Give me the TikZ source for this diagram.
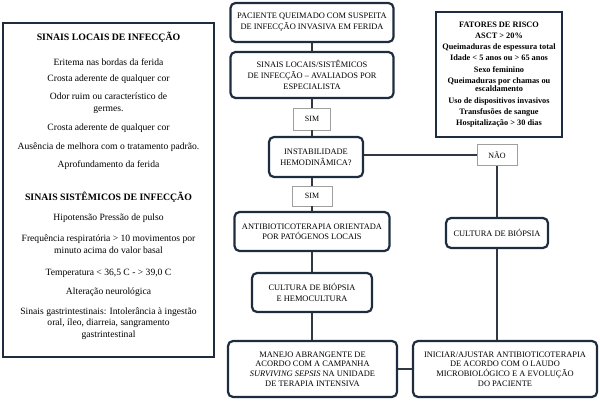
\documentclass[tikz,border=0pt]{standalone}
\usepackage{fontspec}
\setmainfont{Liberation Serif}
\definecolor{navyline}{RGB}{30,44,64}
\definecolor{linkgray}{RGB}{50,56,66}
\tikzset{
  flowbox/.style={draw=navyline,line width=2.2pt,rounded corners=5pt,fill=white,
    align=center,inner sep=1pt,font=\fontsize{8.4}{10.8}\selectfont},
  simbox/.style={draw=gray!75,line width=0.6pt,fill=white,inner sep=1pt,
    font=\fontsize{8}{9}\selectfont},
  panel/.style={draw=navyline,line width=2.6pt,fill=white,inner sep=0pt},
  paneltxt/.style={align=center,inner sep=0pt,font=\fontsize{9.6}{11.6}\selectfont},
  paneltitle/.style={inner sep=0pt,font=\bfseries\fontsize{9.8}{10}\selectfont},
  link/.style={draw=linkgray,line width=1.2pt}
}
\begin{document}
\begin{tikzpicture}[x=1pt,y=-1pt]
  \useasboundingbox (0,0) rectangle (600,403);
  % panels
  \node[panel,minimum width=211pt,minimum height=334pt] (sinais) at (108.5,190) {};
  \node[panel,minimum width=126pt,minimum height=125pt,align=center,
    font=\bfseries\fontsize{8.3}{11.2}\selectfont] (fatores) at (499,74.5)
    {FATORES DE RISCO\\ ASCT > 20\%\\ Queimaduras de espessura total\\
     Idade < 5 anos ou > 65 anos\\ Sexo feminino\\
     Queimaduras por chamas ou\\[-2.5pt] escaldamento\\ Uso de dispositivos invasivos\\
     Transfusões de sangue\\ Hospitalização > 30 dias};
  % left panel texts
  \node[paneltitle] (tlocal) at (108.5,37) {SINAIS LOCAIS DE INFECÇÃO};
  \node[paneltxt] (l1) at (108.5,62) {Eritema nas bordas da ferida};
  \node[paneltxt] (l2) at (108.5,79.5) {Crosta aderente de qualquer cor};
  \node[paneltxt] (l3) at (108.5,103.5) {Odor ruim ou característico de\\ germes.};
  \node[paneltxt] (l4) at (108.5,128) {Crosta aderente de qualquer cor};
  \node[paneltxt] (l5) at (108.5,147) {Ausência de melhora com o tratamento padrão.};
  \node[paneltxt] (l6) at (108.5,165.5) {Aprofundamento da ferida};
  \node[paneltitle] (tsist) at (108.5,197) {SINAIS SISTÊMICOS DE INFECÇÃO};
  \node[paneltxt] (s1) at (108.5,218.5) {Hipotensão Pressão de pulso};
  \node[paneltxt] (s2) at (108.5,244) {Frequência respiratória > 10 movimentos por\\ minuto acima do valor basal};
  \node[paneltxt] (s3) at (108.5,273) {Temperatura < 36,5 C - > 39,0 C};
  \node[paneltxt] (s4) at (108.5,292.5) {Alteração neurológica};
  \node[paneltxt] (s5) at (108.5,323.5) {Sinais gastrintestinais: Intolerância à ingestão\\ oral, íleo, diarreia, sangramento\\ gastrintestinal};
  % flow
  \node[flowbox,minimum width=163pt,minimum height=39pt] (pac) at (312,22.5)
    {PACIENTE QUEIMADO COM SUSPEITA\\ DE INFECÇÃO INVASIVA EM FERIDA};
  \node[flowbox,minimum width=163pt,minimum height=46pt] (aval) at (312,75)
    {SINAIS LOCAIS/SISTÊMICOS\\ DE INFECÇÃO -- AVALIADOS POR\\ ESPECIALISTA};
  \node[simbox,minimum width=37pt,minimum height=22pt] (sim1) at (312,119) {SIM};
  \node[flowbox,minimum width=94pt,minimum height=40pt] (inst) at (316,157)
    {INSTABILIDADE\\ HEMODINÂMICA?};
  \node[simbox,minimum width=40pt,minimum height=21pt] (nao) at (497,155) {NÃO};
  \node[simbox,minimum width=40pt,minimum height=20pt] (sim2) at (312,196) {SIM};
  \node[flowbox,minimum width=155pt,minimum height=39pt,
    font=\fontsize{8.4}{10}\selectfont] (anti) at (312,231.5)
    {ANTIBIOTICOTERAPIA ORIENTADA\\ POR PATÓGENOS LOCAIS};
  \node[flowbox,minimum width=102pt,minimum height=30pt] (cult) at (497,233)
    {CULTURA DE BIÓPSIA};
  \node[flowbox,minimum width=120pt,minimum height=39pt] (hemo) at (312,292.5)
    {CULTURA DE BIÓPSIA\\ E HEMOCULTURA};
  \node[flowbox,minimum width=169pt,minimum height=56pt,
    font=\fontsize{8.4}{9.8}\selectfont] (manejo) at (312.5,369)
    {MANEJO ABRANGENTE DE\\ ACORDO COM A CAMPANHA\\ \textit{SURVIVING SEPSIS} NA UNIDADE\\ DE TERAPIA INTENSIVA};
  \node[flowbox,minimum width=184pt,minimum height=56pt,
    font=\fontsize{8.4}{9.8}\selectfont] (iniciar) at (505,369)
    {INICIAR/AJUSTAR ANTIBIOTICOTERAPIA\\ DE ACORDO COM O LAUDO\\ MICROBIOLÓGICO E A EVOLUÇÃO\\ DO PACIENTE};
  % connectors
  \draw[link] (pac.south) -- (aval.north);
  \draw[link] (aval.south) -- (sim1.north);
  \draw[link] (sim1.south) -- (sim1.south |- inst.north);
  \draw[link] (inst.east |- nao.west) -- (nao.west);
  \draw[link] (sim1.south |- inst.south) -- (sim2.north);
  \draw[link] (sim2.south) -- (anti.north);
  \draw[link] (anti.south) -- (hemo.north);
  \draw[link] (hemo.south) -- (manejo.north -| hemo.south);
  \draw[link] (nao.south) -- (cult.north);
  \draw[link] (cult.south) -- (cult.south |- iniciar.north);
  \draw[link] (manejo.east) -- (iniciar.west);
\end{tikzpicture}
\end{document}
